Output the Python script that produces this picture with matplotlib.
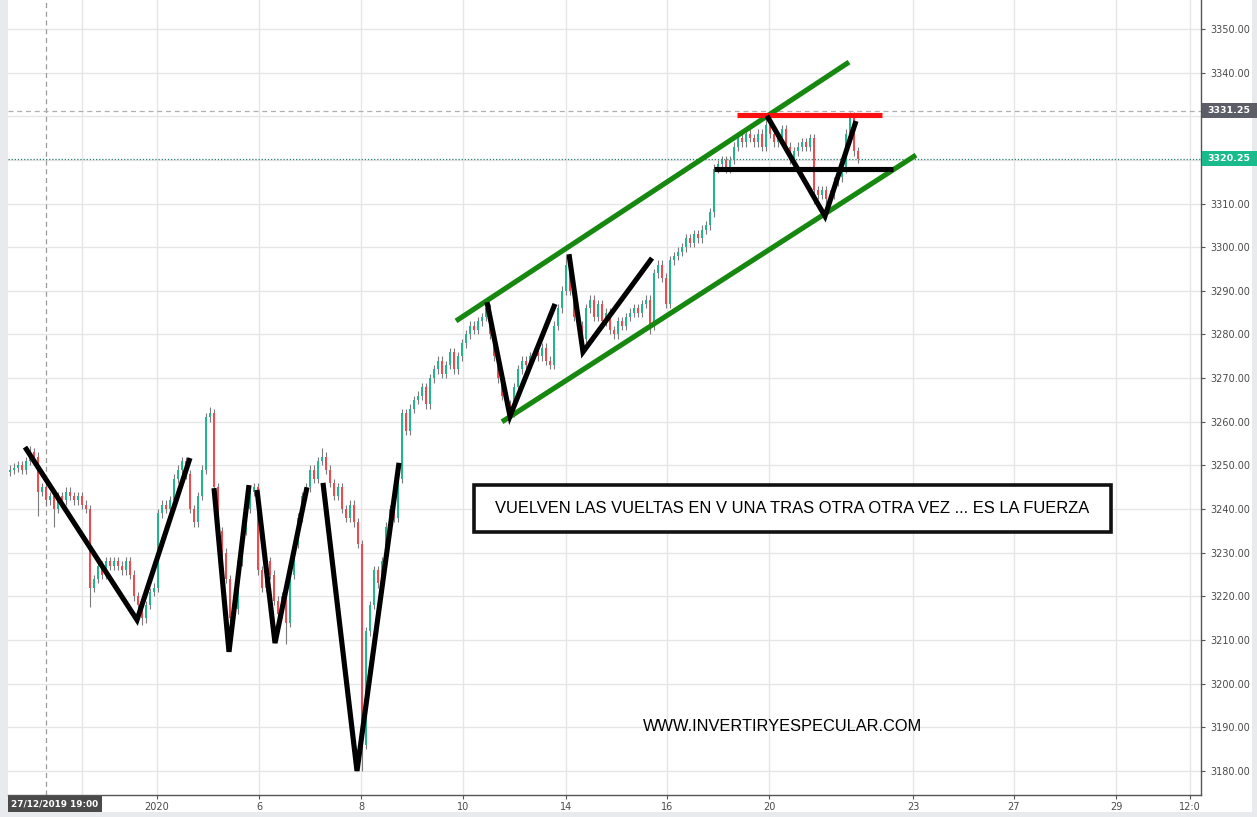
import matplotlib
matplotlib.use('Agg')
import matplotlib.pyplot as plt
from matplotlib.patches import Rectangle
from matplotlib.transforms import blended_transform_factory

# ---- data (x in bar units, prices in index points) ----
closes = [
    3249, 3249.5, 3250, 3249, 3251, 3253, 3252, 3244, 3245, 3242, 3243, 3240,
    3243, 3242, 3244, 3243, 3242, 3243, 3241, 3240, 3222,
    3224, 3227, 3225, 3228, 3227, 3228, 3227, 3226, 3228, 3225,
    3220, 3218, 3215, 3218, 3221, 3222, 3239, 3241, 3240, 3242,
    3247, 3249, 3251, 3248, 3240, 3237, 3243, 3249, 3261, 3262, 3245,
    3235, 3230, 3224, 3215, 3217, 3228, 3235, 3240, 3244, 3245, 3226,
    3222, 3228, 3225, 3219, 3216, 3220, 3214, 3225, 3232, 3238, 3243,
    3245, 3249, 3247, 3251, 3252, 3249, 3246, 3243, 3245, 3240, 3238, 3241, 3237,
    3232, 3186, 3212, 3218, 3226, 3223, 3228, 3236, 3240, 3238, 3247,
    3262, 3258, 3263, 3265, 3266, 3268, 3264, 3270,
    3272, 3274, 3271, 3273, 3276, 3272, 3275, 3278,
    3280, 3282, 3281, 3283, 3284, 3286, 3280, 3275, 3270, 3266, 3264, 3262,
    3268, 3272, 3274, 3273, 3275, 3276, 3275, 3277, 3274, 3273,
    3282, 3286, 3290, 3296, 3290, 3284, 3282, 3279,
    3286, 3288, 3284, 3287, 3283, 3285, 3281, 3280, 3283, 3282, 3284, 3285,
    3286, 3285, 3287, 3288, 3282, 3294, 3296, 3293, 3287, 3297, 3298, 3299,
    3300, 3302, 3301, 3303, 3302, 3304, 3305, 3308, 3318,
    3319, 3320, 3318, 3320, 3323, 3325, 3324, 3326, 3325, 3324, 3326, 3323,
    3328, 3326, 3324, 3325, 3327, 3323, 3320, 3322, 3323, 3324, 3323, 3325,
    3313, 3312, 3313, 3311, 3312, 3315, 3316, 3318, 3326, 3330, 3322, 3320.25,
]
first_open = 3248.5
high_spikes = {5: 3254.5, 50: 3263.5, 78: 3254, 119: 3287.5, 139: 3298,
               189: 3330.7, 210: 3331}
low_spikes = {7: 3238.5, 11: 3236, 20: 3217.5, 33: 3213.5, 55: 3208, 69: 3209,
              88: 3180, 125: 3260.5, 143: 3277, 160: 3280, 201: 3310, 205: 3309.5}

x_ticks = [37.25, 62.75, 88.25, 113.75, 139.5, 164.75, 190.25, 226.25, 251.5, 277, 295.5]
x_labels = ['2020', '6', '8', '10', '14', '16', '20', '23', '27', '29', '12:0']
extra_vgrid = [18.5]
y_ticks = list(range(3180, 3351, 10))

# drawn annotations: (x, price) vertices
black_vs = [
    [(4.25, 3254.2), (32.25, 3214.6), (45.5, 3251.7)],
    [(51.5, 3244.8), (55.25, 3207.3), (60.25, 3245.5)],
    [(62.25, 3244.4), (66.75, 3209.3), (74.75, 3245.0)],
    [(78.75, 3246.0), (87.25, 3180.0), (97.75, 3250.6)],
    [(119.75, 3287.4), (125.5, 3261.3), (136.75, 3287.0)],
    [(140.25, 3298.4), (143.75, 3276.0), (161.0, 3297.5)],
    [(189.75, 3330.1), (204.25, 3307.1), (212.0, 3328.9)],
    [(176.5, 3317.9), (221.25, 3317.9)],
]
red_line = [(182.25, 3330.3), (218.5, 3330.3)]
green_lines = [
    [(112.0, 3283.1), (210.25, 3342.4)],
    [(123.5, 3260.0), (227.0, 3321.1)],
]
last_price = 3320.25
cross_price = 3331.25
cross_x = 9.5
cross_label = '27/12/2019 19:00'

UP, DOWN, WICK = '#22b58e', '#ef4a4d', '#7b7b7e'

fig = plt.figure(figsize=(12.57, 8.17), dpi=100)
fig.patch.set_facecolor('white')
# light grey frame strips like the trading app (behind everything)
for r in [(0, 0, 8 / 1257, 1), (0, 0, 1, 5 / 817), (1252 / 1257, 0, 5 / 1257, 1)]:
    fig.patches.append(Rectangle(r[:2], r[2], r[3], transform=fig.transFigure,
                                 facecolor='#e9eaee', edgecolor='none', zorder=-5))

ax = fig.add_axes([8 / 1257, 22 / 817, 1193 / 1257, 795 / 817])
ax.set_zorder(1)
ax.set_xlim(0, 298.25)
ax.set_ylim(3174.5, 3356.63)

# grid
for yv in y_ticks:
    ax.axhline(yv, color='#e6e6e6', lw=1, zorder=0)
for xv in x_ticks + extra_vgrid:
    ax.axvline(xv, color='#e6e6e6', lw=1, zorder=0)

# candles
opens = [first_open] + closes[:-1]
xs = [i + 0.5 for i in range(len(closes))]
for i, (x, o, c) in enumerate(zip(xs, opens, closes)):
    hi = high_spikes.get(i, max(o, c) + 1.0)
    lo = low_spikes.get(i, min(o, c) - 1.0)
    ax.vlines(x, lo, hi, color=WICK, lw=0.8, zorder=2)
    col = UP if c >= o else DOWN
    ax.bar(x, abs(c - o) if abs(c - o) > 0.3 else 0.3, bottom=min(o, c),
           width=0.55, color=col, edgecolor='none', zorder=3)

# crosshair + price lines
ax.axvline(cross_x, color='#9b9b9b', lw=0.9, ls=(0, (4, 3)), zorder=1)
ax.axhline(cross_price, color='#b0b0b0', lw=0.9, ls=(0, (4, 3)), zorder=1)
ax.axhline(last_price, color='#2a7f70', lw=0.9, ls=(0, (1, 1.5)), zorder=1)

# hand-drawn annotations
for pts in green_lines:
    ax.plot([p[0] for p in pts], [p[1] for p in pts], color='#17880f', lw=3.7,
            solid_capstyle='butt', zorder=5)
ax.plot([p[0] for p in red_line], [p[1] for p in red_line], color='#ff1010',
        lw=3.7, solid_capstyle='butt', zorder=5)
for pts in black_vs:
    ax.plot([p[0] for p in pts], [p[1] for p in pts], color='black', lw=3.7,
            solid_capstyle='butt', solid_joinstyle='miter', zorder=6)

# text box
ax.add_patch(Rectangle((116.5, 3234.75), 159.25, 10.75, facecolor='white',
                       edgecolor='#111111', lw=2.6, zorder=7))
ax.text(196.1, 3240.1, 'VUELVEN LAS VUELTAS EN V UNA TRAS OTRA OTRA VEZ ... ES LA FUERZA',
        ha='center', va='center', fontsize=11.9, family='Liberation Sans',
        color='black', zorder=8)
ax.text(193.75, 3190.3, 'WWW.INVERTIRYESPECULAR.COM', ha='center', va='center',
        fontsize=11.8, family='Liberation Sans', color='black', zorder=8)

# axes styling
for s in ['top', 'left']:
    ax.spines[s].set_visible(False)
for s in ['right', 'bottom']:
    ax.spines[s].set_color('#555555')
    ax.spines[s].set_linewidth(1)
ax.yaxis.tick_right()
ax.set_yticks(y_ticks)
# labels under the price boxes are hidden in the app
ax.set_yticklabels(['' if v in (3320, 3330) else f'{v:.2f}' for v in y_ticks])
ax.set_xticks(x_ticks)
ax.set_xticklabels(x_labels)
ax.tick_params(axis='y', length=3, pad=4, colors='#555555', labelsize=7,
               labelcolor='#4a4a4a')
ax.tick_params(axis='x', length=3, pad=2, colors='#555555', labelsize=7,
               labelcolor='#4a4a4a')

# price scale labels
ty = blended_transform_factory(ax.transAxes, ax.transData)
right_end = (1257 - 8) / 1193
for price, bg in [(cross_price, '#5b5e66'), (last_price, '#19bb8d')]:
    ax.add_patch(Rectangle((1.0008, price - 1.75), right_end - 1.0008, 3.5,
                           transform=ty, facecolor=bg, edgecolor='none',
                           clip_on=False, zorder=10))
    ax.text(1.0055, price, f'{price:.2f}', transform=ty, ha='left', va='center',
            fontsize=6.8, fontweight='bold', color='white', clip_on=False, zorder=11)

# crosshair date label
ax.add_patch(Rectangle((0, -0.0214), 94 / 1193, 0.02, transform=ax.transAxes,
                       facecolor='#4a4a4a', edgecolor='none', clip_on=False, zorder=10))
ax.text(47 / 1193, -0.0114, cross_label, transform=ax.transAxes, ha='center',
        va='center', fontsize=6.4, fontweight='bold', color='white', clip_on=False,
        zorder=11)

fig.savefig('out.png', dpi=100, facecolor=fig.get_facecolor())
